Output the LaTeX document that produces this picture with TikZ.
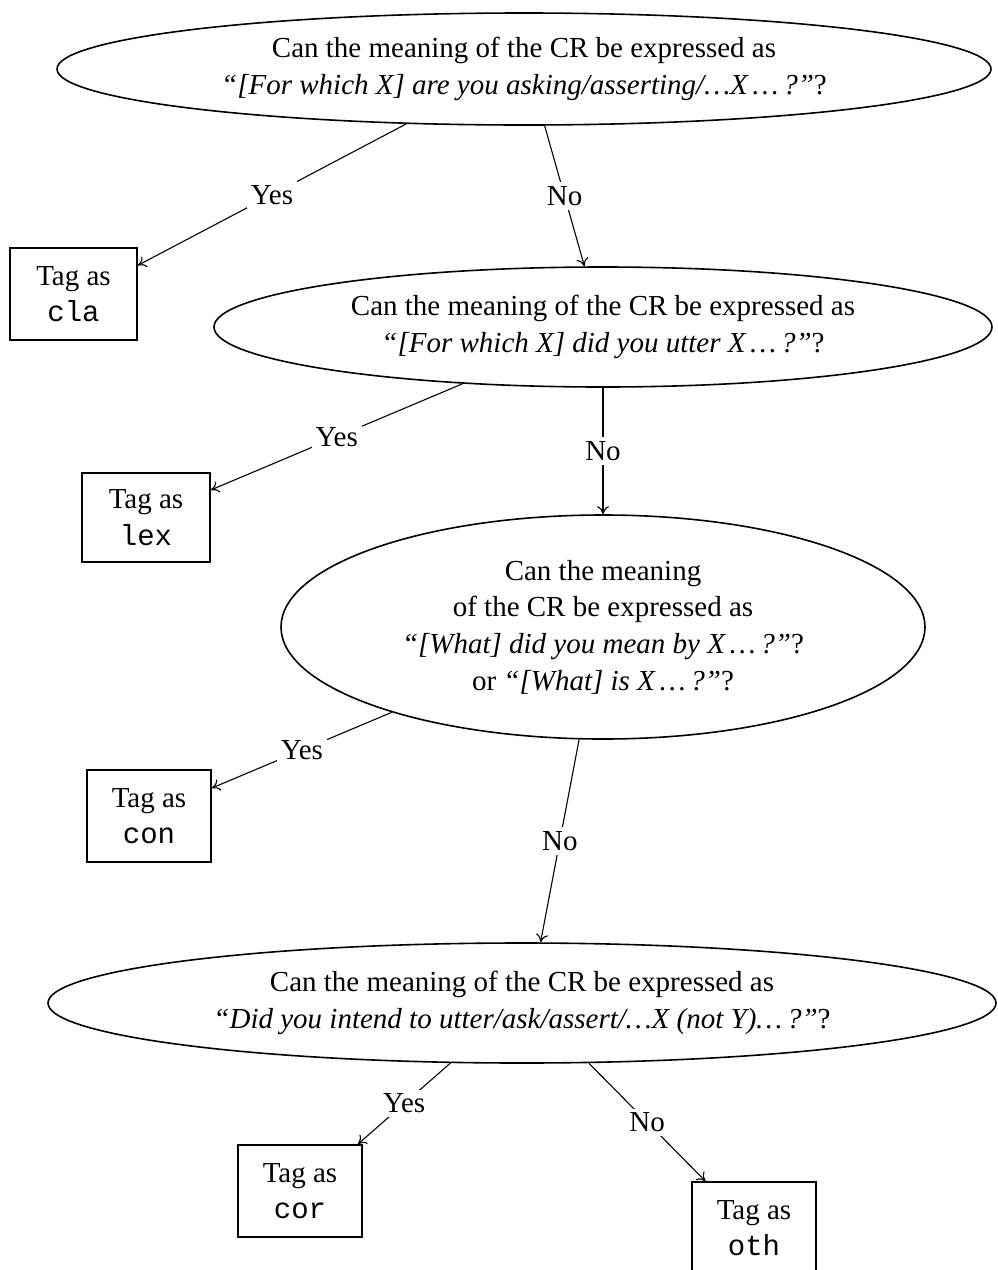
\documentclass[tikz,border=0pt]{standalone}
\usepackage{fontspec}
\setmainfont{Liberation Serif}
\setmonofont{Liberation Mono}
\usetikzlibrary{shapes.geometric,arrows.meta}
\begin{document}
\begin{tikzpicture}[x=0.5pt,y=-0.5pt,
  every node/.style={font=\fontsize{14.5}{18.3}\selectfont},
  question/.style={ellipse, draw, line width=0.8pt, inner sep=0pt, align=center},
  tagbox/.style={draw, line width=0.9pt, inner sep=0pt, minimum width=62pt, minimum height=46pt, align=center},
  link/.style={line width=0.55pt, -{To[length=4pt,width=6pt]}},
  answer/.style={midway, fill=white, inner sep=2pt}]
\useasboundingbox (0,0) rectangle (997,1270);
\clip (0,0) rectangle (997,1270);

% questions
\node[question, minimum width=467pt, minimum height=56pt] (q1) at (524,69)
  {Can the meaning of the CR be expressed as\\
   \textit{“[For which X] are you asking/asserting/\ldots X\,\ldots\,?”}?};
\node[question, minimum width=389pt, minimum height=60pt] (q2) at (603,327)
  {Can the meaning of the CR be expressed as\\
   \textit{“[For which X] did you utter X\,\ldots\,?”}?};
\node[question, minimum width=322pt, minimum height=112pt] (q3) at (603,627)
  {Can the meaning\\
   of the CR be expressed as\\
   \textit{“[What] did you mean by X\,\ldots\,?”}?\\
   or \textit{“[What] is X\,\ldots\,?”}?};
\node[question, minimum width=474pt, minimum height=60pt] (q4) at (522,1003)
  {Can the meaning of the CR be expressed as\\
   \textit{“Did you intend to utter/ask/assert/\ldots X (not Y)\ldots\,?”}?};

% outcomes
\node[tagbox, minimum width=63.5pt] (cla) at (73.5,294) {Tag as\\\texttt{cla}};
\node[tagbox, minimum width=64pt, minimum height=44.5pt] (lex) at (146,517.5) {Tag as\\\texttt{lex}};
\node[tagbox] (con) at (149,816) {Tag as\\\texttt{con}};
\node[tagbox] (cor) at (300,1191) {Tag as\\\texttt{cor}};
\node[tagbox] (oth) at (754,1228) {Tag as\\\texttt{oth}};

% decisions
\draw[link] (q1.205) -- node[answer] {Yes} (cla.24);
\draw[link] (q1.290.6) -- node[answer] {No} (q2.107.6);
\draw[link] (q2.202) -- node[answer] {Yes} (lex.23);
\draw[link] (q2.south) -- node[answer] {No} (q3.north);
\draw[link] (q3.202.5) -- node[answer] {Yes} (con.24);
\draw[link] (q3.258) -- node[answer] {No} (q4.73.3);
\draw[link] (q4.220.3) -- node[answer] {Yes} (cor.39);
\draw[link] (q4.318.1) -- node[answer] {No} (oth.136);
\end{tikzpicture}
\end{document}
